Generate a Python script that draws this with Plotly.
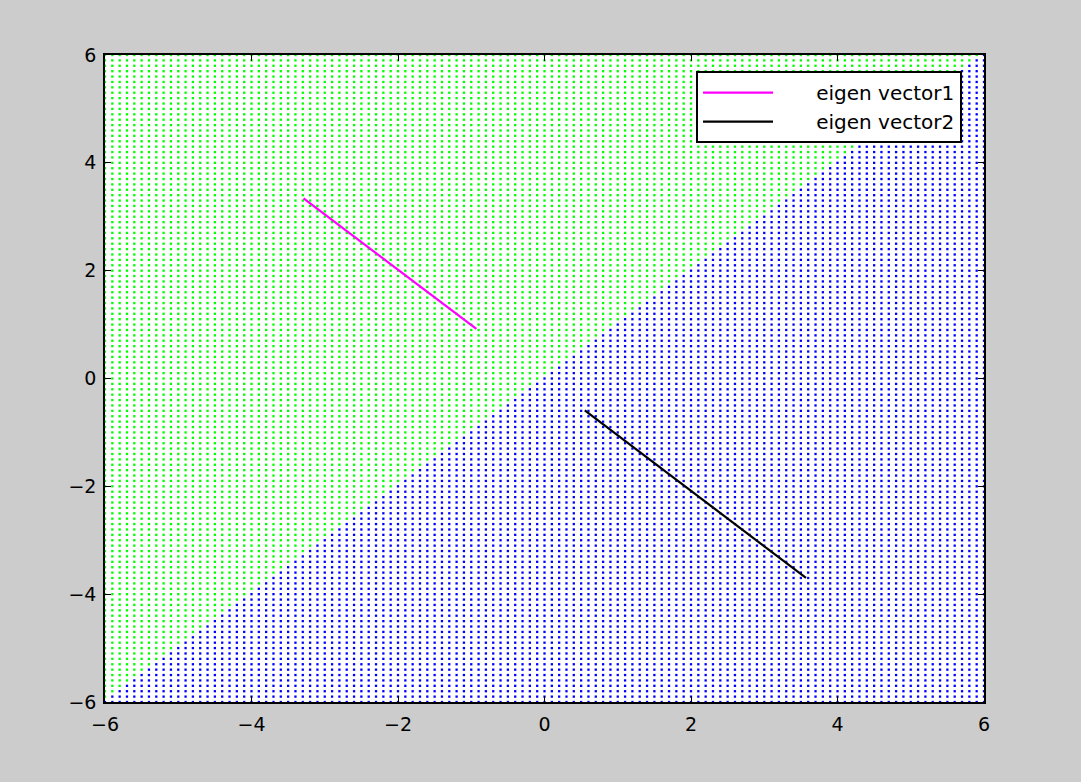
import numpy as np
import plotly.graph_objects as go

# grid of classified points (step 0.1 over [-6, 6])
grid_vals = np.round(np.arange(-60, 61) / 10.0, 1)
GX, GY = np.meshgrid(grid_vals, grid_vals)
gx = GX.ravel()
gy = GY.ravel()
is_green = gy > gx  # decision boundary along y = x

# eigen vector segments
ev1_x = [-3.29, -0.93]
ev1_y = [3.34, 0.92]
ev2_x = [0.55, 3.57]
ev2_y = [-0.59, -3.70]

tick_vals = [-6, -4, -2, 0, 2, 4, 6]
tick_text = ["\u22126", "\u22124", "\u22122", "0", "2", "4", "6"]

FONT = "DejaVu Sans, Liberation Sans, Arial"

fig = go.Figure()
fig.add_trace(go.Scatter(
    x=gx[is_green], y=gy[is_green], mode="markers",
    marker=dict(color="#00ff00", size=2.3, symbol="square", line=dict(width=0)),
    showlegend=False, hoverinfo="skip", cliponaxis=False))
fig.add_trace(go.Scatter(
    x=gx[~is_green], y=gy[~is_green], mode="markers",
    marker=dict(color="#0000ff", size=2.3, symbol="square", line=dict(width=0)),
    showlegend=False, hoverinfo="skip", cliponaxis=False))
fig.add_trace(go.Scatter(
    x=ev1_x, y=ev1_y, mode="lines", name="\u00a0\u00a0\u00a0\u00a0\u00a0\u00a0eigen vector1",
    line=dict(color="#ff00ff", width=2.2)))
fig.add_trace(go.Scatter(
    x=ev2_x, y=ev2_y, mode="lines", name="\u00a0\u00a0\u00a0\u00a0\u00a0\u00a0eigen vector2",
    line=dict(color="#000000", width=2.2)))

axis_common = dict(
    range=[-6, 6], tickvals=tick_vals, ticktext=tick_text,
    showgrid=False, zeroline=False, showline=True, linecolor="black",
    linewidth=1.5, mirror="allticks", ticks="inside", ticklen=6,
    tickcolor="black", tickfont=dict(family=FONT, size=19, color="black"),
)

fig.update_layout(
    width=1081, height=782,
    margin=dict(l=105, r=97, t=55, b=80),
    paper_bgcolor="#cccccc", plot_bgcolor="white",
    xaxis=dict(**axis_common, ticklabelstandoff=4),
    yaxis=dict(**axis_common, ticklabelstandoff=3),
    legend=dict(
        x=0.975, y=0.975, xanchor="right", yanchor="top",
        bgcolor="white", bordercolor="black", borderwidth=2,
        font=dict(family=FONT, size=20, color="black"),
        itemwidth=70, tracegroupgap=0,
    ),
    showlegend=True,
)

fig.write_html(
    "out.html",
    config={"displayModeBar": False},
    post_script="document.body.style.margin='0';document.body.style.overflow='hidden';",
)
